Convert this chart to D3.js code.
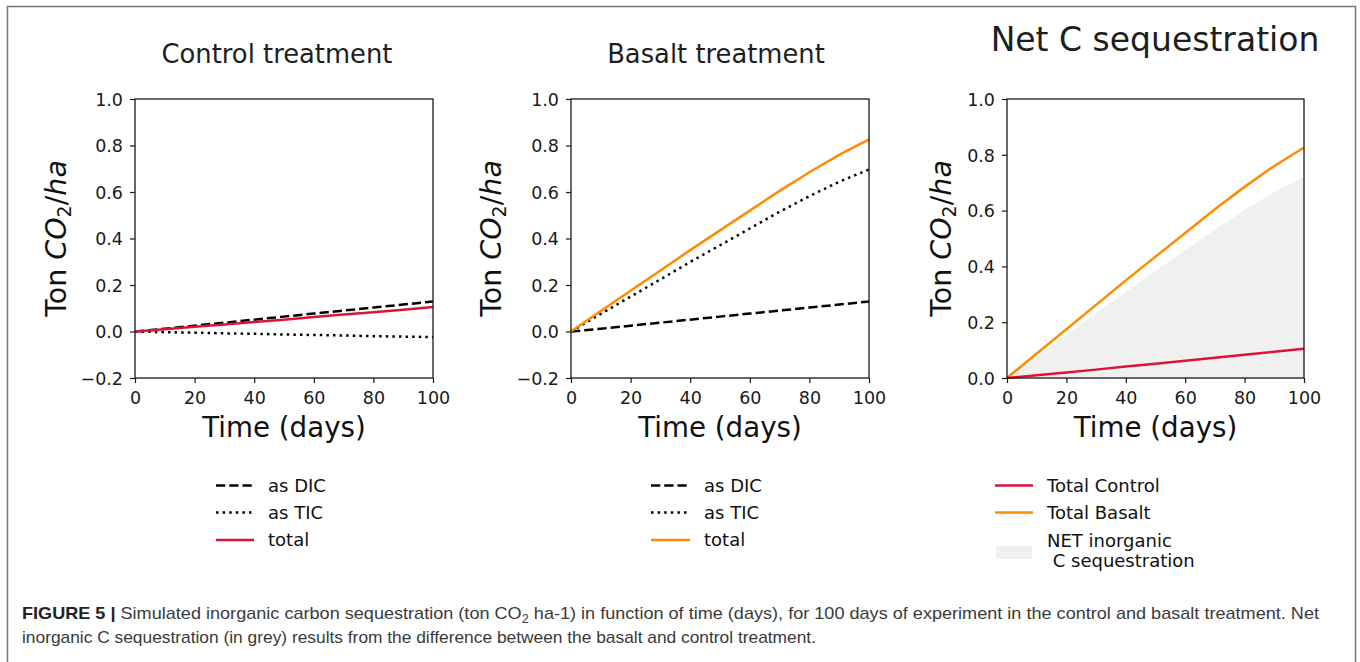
<!DOCTYPE html>
<html>
<head>
<meta charset="utf-8">
<script src="https://cdn.jsdelivr.net/npm/d3@7"></script>
<style>
  html, body { margin: 0; padding: 0; background: #fff; }
  svg { display: block; }
  text { font-family: "DejaVu Sans", sans-serif; }
</style>
</head>
<body>
<svg id="chart" width="1360" height="662"></svg>
<script>
// ---------------- data ----------------
const days = [0, 10, 20, 30, 40, 50, 60, 70, 80, 90, 100];

const controlDIC   = [0, 0.012, 0.025, 0.038, 0.051, 0.064, 0.077, 0.090, 0.103, 0.116, 0.129];
const controlTIC   = [0, -0.003, -0.005, -0.008, -0.010, -0.013, -0.015, -0.017, -0.020, -0.022, -0.024];
const controlTotal = [0, 0.010, 0.020, 0.030, 0.041, 0.051, 0.062, 0.073, 0.083, 0.094, 0.105];

const basaltDIC   = [0, 0.012, 0.025, 0.038, 0.051, 0.064, 0.077, 0.090, 0.103, 0.116, 0.129];
const basaltTIC   = [0, 0.076, 0.150, 0.224, 0.299, 0.371, 0.443, 0.515, 0.582, 0.644, 0.697];
const basaltTotal = [0, 0.088, 0.175, 0.262, 0.350, 0.435, 0.520, 0.605, 0.685, 0.760, 0.826];

const netSequestration = [0, 0.078, 0.155, 0.232, 0.309, 0.384, 0.458, 0.532, 0.602, 0.666, 0.721];

const xTicks = [0, 20, 40, 60, 80, 100];
const yTicksTreatment = [-0.2, 0.0, 0.2, 0.4, 0.6, 0.8, 1.0];
const yTicksNet = [0.0, 0.2, 0.4, 0.6, 0.8, 1.0];

const titles = ["Control treatment", "Basalt treatment", "Net C sequestration"];
const legendControl = ["as DIC", "as TIC", "total"];
const legendBasalt = ["as DIC", "as TIC", "total"];
const legendNet = ["Total Control", "Total Basalt", "NET inorganic", " C sequestration"];

// ---------------- style ----------------
const RED = "#dc143c", ORANGE = "#ff8c00", GREY_FILL = "#f0f0f0", INK = "#1a1a1a";
const LW = 2.5;
const DASH = "9.25,4", DOT = "2.5,4.1";

const svg = d3.select("#chart");

// frame
svg.append("path")
  .attr("d", "M7.5,662 V6.5 H1355.5 V662")
  .attr("fill", "none").attr("stroke", "#777").attr("stroke-width", 1.5);

const plotTop = 99, plotBottom = 378;
const panels = [
  { left: 135, right: 433, yDomain: [-0.2, 1.0], yTicks: yTicksTreatment, ylabX: 66,
    title: titles[0], titleX: 277, titleY: 63, titleSize: 25.8 },
  { left: 571, right: 869, yDomain: [-0.2, 1.0], yTicks: yTicksTreatment, ylabX: 501,
    title: titles[1], titleX: 716, titleY: 63, titleSize: 25.8 },
  { left: 1007, right: 1304, yDomain: [0.0, 1.0], yTicks: yTicksNet, ylabX: 951,
    title: titles[2], titleX: 1155, titleY: 51, titleSize: 33 }
];

const fmtY = v => (v < 0 ? "\u2212" : "") + Math.abs(v).toFixed(1);

panels.forEach(p => {
  p.x = d3.scaleLinear().domain([0, 100]).range([p.left, p.right]);
  p.y = d3.scaleLinear().domain(p.yDomain).range([plotBottom, plotTop]);

  // title
  svg.append("text").attr("x", p.titleX).attr("y", p.titleY)
    .attr("text-anchor", "middle").attr("font-size", p.titleSize)
    .attr("fill", "#1e1e1e").text(p.title);

  // axes
  const xAxis = d3.axisBottom(p.x).tickValues(xTicks).tickSize(5).tickPadding(5).tickFormat(d3.format("d"));
  const yAxis = d3.axisLeft(p.y).tickValues(p.yTicks).tickSize(5).tickPadding(7).tickFormat(fmtY);
  const gx = svg.append("g").attr("transform", `translate(0,${plotBottom})`).call(xAxis);
  const gy = svg.append("g").attr("transform", `translate(${p.left},0)`).call(yAxis);
  [gx, gy].forEach(a => {
    a.select(".domain").remove();
    a.selectAll(".tick line").attr("stroke", INK).attr("stroke-width", 1.2);
    a.selectAll(".tick text").attr("font-size", 17.5).attr("fill", INK)
      .attr("font-family", "DejaVu Sans, sans-serif");
  });
  gx.selectAll(".tick text").attr("dy", "0.92em");
  gy.selectAll(".tick text").attr("dy", "0.36em");

  // x label
  svg.append("text").attr("x", (p.left + p.right) / 2).attr("y", 437)
    .attr("text-anchor", "middle").attr("font-size", 27.7).attr("fill", "#111")
    .text("Time (days)");

  // y label
  const yl = svg.append("text")
    .attr("transform", `translate(${p.ylabX},${(plotTop + plotBottom) / 2}) rotate(-90)`)
    .attr("text-anchor", "middle").attr("font-size", 28.5).attr("fill", "#111");
  yl.append("tspan").text("Ton ");
  yl.append("tspan").attr("font-style", "italic").text("CO");
  yl.append("tspan").attr("font-size", 19).attr("dy", 5).text("2");
  yl.append("tspan").attr("dy", -5).text("/");
  yl.append("tspan").attr("font-style", "italic").text("ha");
});

function drawLine(p, values, color, dash) {
  const line = d3.line().x((d, i) => p.x(days[i])).y(d => p.y(d));
  const path = svg.append("path").datum(values)
    .attr("d", line).attr("fill", "none")
    .attr("stroke", color).attr("stroke-width", LW);
  if (dash) path.attr("stroke-dasharray", dash);
  return path;
}

// panel 1 - control
drawLine(panels[0], controlDIC, "#000", DASH);
drawLine(panels[0], controlTIC, "#000", DOT);
drawLine(panels[0], controlTotal, RED, null);

// panel 2 - basalt
drawLine(panels[1], basaltDIC, "#000", DASH);
drawLine(panels[1], basaltTIC, "#000", DOT);
drawLine(panels[1], basaltTotal, ORANGE, null);

// panel 3 - net
const p3 = panels[2];
const area = d3.area().x((d, i) => p3.x(days[i])).y0(p3.y(0)).y1(d => p3.y(d));
svg.append("path").datum(netSequestration).attr("d", area).attr("fill", GREY_FILL);
drawLine(p3, basaltTotal, ORANGE, null);
drawLine(p3, controlTotal, RED, null);

// spines (box)
panels.forEach(p => {
  svg.append("rect").attr("x", p.left).attr("y", plotTop)
    .attr("width", p.right - p.left).attr("height", plotBottom - plotTop)
    .attr("fill", "none").attr("stroke", INK).attr("stroke-width", 1.3);
});

// ---------------- legends ----------------
function legendRow(x0, x1, tx, cy, label, color, dash) {
  const l = svg.append("line").attr("x1", x0).attr("x2", x1).attr("y1", cy).attr("y2", cy)
    .attr("stroke", color).attr("stroke-width", LW);
  if (dash) l.attr("stroke-dasharray", dash);
  svg.append("text").attr("x", tx).attr("y", cy).attr("dy", "0.36em")
    .attr("font-size", 18).attr("fill", "#111").text(label);
}
const rowY = [485.5, 512.5, 540];
legendRow(216, 254, 268, rowY[0], legendControl[0], "#000", DASH);
legendRow(216, 254, 268, rowY[1], legendControl[1], "#000", DOT);
legendRow(216, 254, 268, rowY[2], legendControl[2], RED, null);

legendRow(651, 690, 704, rowY[0], legendBasalt[0], "#000", DASH);
legendRow(651, 690, 704, rowY[1], legendBasalt[1], "#000", DOT);
legendRow(651, 690, 704, rowY[2], legendBasalt[2], ORANGE, null);

legendRow(995, 1033, 1047, rowY[0], legendNet[0], RED, null);
legendRow(995, 1033, 1047, rowY[1], legendNet[1], ORANGE, null);
svg.append("rect").attr("x", 996).attr("y", 546).attr("width", 36).attr("height", 13)
  .attr("fill", GREY_FILL);
svg.append("text").attr("x", 1047).attr("y", 541).attr("dy", "0.36em")
  .attr("font-size", 18).attr("fill", "#111").text(legendNet[2]);
svg.append("text").attr("x", 1047).attr("y", 561).attr("dy", "0.36em")
  .attr("font-size", 18).attr("fill", "#111")
  .style("white-space", "pre").text(legendNet[3]);

// ---------------- caption ----------------
const capFont = "'Liberation Sans Narrow', 'Liberation Sans', Arial, sans-serif";
const c1 = svg.append("text").attr("x", 22).attr("y", 619)
  .attr("font-size", 17).attr("fill", "#3a3a3a")
  .style("font-family", capFont)
  .attr("textLength", 1297).attr("lengthAdjust", "spacingAndGlyphs");
c1.append("tspan").attr("font-weight", "bold").attr("fill", "#222").text("FIGURE 5 | ");
c1.append("tspan").text("Simulated inorganic carbon sequestration (ton CO");
c1.append("tspan").attr("font-size", 12).attr("dy", 4).text("2");
c1.append("tspan").attr("dy", -4).text(" ha-1) in function of time (days), for 100 days of experiment in the control and basalt treatment. Net");

svg.append("text").attr("x", 22).attr("y", 643)
  .attr("font-size", 17).attr("fill", "#3a3a3a")
  .style("font-family", capFont)
  .attr("textLength", 794).attr("lengthAdjust", "spacingAndGlyphs")
  .text("inorganic C sequestration (in grey) results from the difference between the basalt and control treatment.");
</script>
</body>
</html>
